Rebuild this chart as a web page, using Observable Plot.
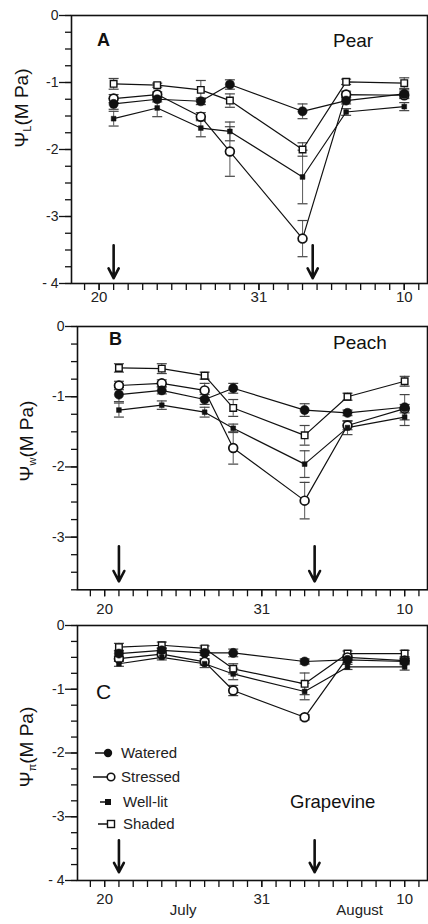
<!DOCTYPE html>
<html>
<head>
<meta charset="utf-8">
<script src="https://cdn.jsdelivr.net/npm/d3@7"></script>
<script src="https://cdn.jsdelivr.net/npm/@observablehq/plot@0.6"></script>
<style>
  body { margin: 0; background: #fff; font-family: "Liberation Sans", Arial, sans-serif; color: #111; }
  #wrap { position: relative; width: 428px; height: 924px; overflow: hidden; background: #fff; }
  .panel { position: absolute; left: 0; }
  .txt { position: absolute; line-height: 1; white-space: nowrap; color: #111; }
  .ylab { position: absolute; white-space: nowrap; font-size: 19px; line-height: 1; transform: translate(-50%, -50%) rotate(-90deg); color: #111; }
  .ylab sub { font-size: 11px; vertical-align: -3px; }
</style>
</head>
<body>
<div id="wrap"></div>
<script>
// Sampling dates, counted as day of July (1 Aug = 32)
const dates = [21, 24, 27, 29, 34, 37, 41];
const treatments = ["Watered", "Stressed", "Well-lit", "Shaded"];

// x axis
const xDays = d3.range(19, 43);          // daily minor ticks
const xTicks = [20, 31, 41];
const xTickLabels = ["20", "31", "10"];
const months = ["July", "August"];
const monthPos = [25.5, 37.85];
const arrowDays = [21, 34.7];

// ---- A: Pear ----
const pearWatered    = [-1.32, -1.25, -1.28, -1.03, -1.43, -1.27, -1.17];
const pearWateredSE  = [0.08, 0.04, 0.05, 0.07, 0.11, 0.05, 0.06];
const pearStressed   = [-1.24, -1.18, -1.51, -2.03, -3.33, -1.18, -1.19];
const pearStressedSE = [0.06, 0.04, 0.06, 0.37, 0.27, 0.05, 0.05];
const pearWellLit    = [-1.54, -1.38, -1.68, -1.73, -2.41, -1.44, -1.36];
const pearWellLitSE  = [0.11, 0.13, 0.13, 0.14, 0.40, 0.05, 0.06];
const pearShaded     = [-1.02, -1.04, -1.11, -1.27, -2.00, -0.99, -1.01];
const pearShadedSE   = [0.08, 0.03, 0.14, 0.10, 0.10, 0.04, 0.08];
const pearArrow      = [-3.43, -3.92];

// ---- B: Peach ----
const peachWatered    = [-0.97, -0.91, -1.04, -0.88, -1.19, -1.23, -1.15];
const peachWateredSE  = [0.10, 0.05, 0.07, 0.07, 0.09, 0.04, 0.18];
const peachStressed   = [-0.84, -0.81, -0.91, -1.73, -2.48, -1.41, -1.17];
const peachStressedSE = [0.06, 0.05, 0.10, 0.23, 0.26, 0.06, 0.06];
const peachWellLit    = [-1.19, -1.12, -1.22, -1.45, -1.96, -1.44, -1.29];
const peachWellLitSE  = [0.10, 0.06, 0.07, 0.06, 0.19, 0.10, 0.12];
const peachShaded     = [-0.59, -0.60, -0.70, -1.16, -1.55, -1.00, -0.78];
const peachShadedSE   = [0.06, 0.07, 0.05, 0.12, 0.14, 0.05, 0.07];
const peachArrow      = [-3.13, -3.63];

// ---- C: Grapevine ----
const grapeWatered    = [-0.44, -0.39, -0.43, -0.43, -0.565, -0.54, -0.565];
const grapeWateredSE  = [0.05, 0.04, 0.04, 0.06, 0.04, 0.04, 0.05];
const grapeStressed   = [-0.52, -0.45, -0.57, -1.02, -1.44, -0.50, -0.55];
const grapeStressedSE = [0.04, 0.04, 0.05, 0.08, 0.04, 0.04, 0.04];
const grapeWellLit    = [-0.60, -0.50, -0.60, -0.76, -1.035, -0.65, -0.65];
const grapeWellLitSE  = [0.04, 0.04, 0.06, 0.09, 0.13, 0.04, 0.05];
const grapeShaded     = [-0.34, -0.31, -0.36, -0.68, -0.915, -0.44, -0.44];
const grapeShadedSE   = [0.06, 0.05, 0.04, 0.08, 0.17, 0.04, 0.05];
const grapeArrow      = [-3.37, -3.87];

// y ticks
const yMajorA = [0, -1, -2, -3, -4];
const yMajorLabelsA = ["0", "-1", "-2", "-3", "- 4"];
const yMajorB = [0, -1, -2, -3];
const yMajorLabelsB = ["0", "-1", "-2", "-3"];

const ink = "#111";
const capSymbol = {
  draw(context, size) {
    const w = Math.sqrt(size / Math.PI);
    context.moveTo(-w, 0);
    context.lineTo(w, 0);
  }
};

function makePanel(cfg) {
  const rows = [];
  cfg.series.forEach(([name, vals, errs]) => {
    vals.forEach((v, i) => rows.push({t: name, x: dates[i], y: v, e: errs[i]}));
  });
  const caps = rows.flatMap(d => [{x: d.x, y: d.y - d.e}, {x: d.x, y: d.y + d.e}]);
  const yMinor = d3.range(0, cfg.ydom[0] - 0.001, -0.25);
  const ymap = new Map(cfg.yMajor.map((t, i) => [t, cfg.yLabels[i]]));
  const xmap = new Map(xTicks.map((t, i) => [t, xTickLabels[i]]));
  const arrows = arrowDays.map(x => ({x, y1: cfg.arrow[0], y2: cfg.arrow[1]}));
  const by = t => rows.filter(d => d.t === t);

  const marks = [
    Plot.axisY({ticks: yMinor, tickSize: 6, tickFormat: () => "", anchor: "left", label: null, strokeWidth: 1.3, stroke: ink}),
    Plot.axisY({ticks: cfg.yMajor, tickSize: 12, tickPadding: 1, tickFormat: d => ymap.get(d), anchor: "left", label: null, fontSize: 14, strokeWidth: 1.3, stroke: ink, fill: "#222"}),
    Plot.axisX({ticks: xDays, tickSize: 7, tickFormat: () => "", anchor: "bottom", label: null, strokeWidth: 1.3, stroke: ink}),
    Plot.axisX({ticks: xTicks, tickSize: 7, tickPadding: cfg.xPad, tickFormat: d => xmap.get(d), anchor: "bottom", label: null, fontSize: 15, strokeWidth: 1.3, stroke: ink, fill: "#222"}),
    Plot.frame({stroke: ink, strokeWidth: 1.6}),
    Plot.ruleX(rows, {x: "x", y1: d => d.y - d.e, y2: d => d.y + d.e, stroke: "#666", strokeWidth: 1.1}),
    Plot.dot(caps, {x: "x", y: "y", symbol: capSymbol, r: 5, stroke: "#444", strokeWidth: 1.2, fill: "none"}),
    Plot.line(rows, {x: "x", y: "y", z: "t", stroke: ink, strokeWidth: 1.2}),
    Plot.dot(by("Shaded"), {x: "x", y: "y", symbol: "square", r: 3.7, fill: "white", stroke: ink, strokeWidth: 1.4}),
    Plot.dot(by("Stressed"), {x: "x", y: "y", r: 4.4, fill: "white", stroke: ink, strokeWidth: 1.7}),
    Plot.dot(by("Well-lit"), {x: "x", y: "y", symbol: "square", r: 2.7, fill: ink, stroke: ink, strokeWidth: 0.5}),
    Plot.dot(by("Watered"), {x: "x", y: "y", r: 4.6, fill: ink, stroke: ink, strokeWidth: 0.5}),
    Plot.arrow(arrows, {x: "x", y1: "y1", y2: "y2", stroke: ink, strokeWidth: 2.6, headLength: 8, headAngle: 55})
  ];
  if (cfg.months) {
    const mmap = new Map(monthPos.map((t, i) => [t, months[i]]));
    marks.push(Plot.axisX({ticks: monthPos, tickSize: 0, tickPadding: 24, tickFormat: d => mmap.get(d), anchor: "bottom", label: null, fontSize: 15, fill: "#222"}));
  }

  const svg = Plot.plot({
    width: 428,
    height: cfg.height,
    marginTop: cfg.mt,
    marginBottom: cfg.mb,
    marginLeft: cfg.ml,
    marginRight: 1,
    x: {domain: [18.1, 42.6]},
    y: {domain: cfg.ydom},
    style: {fontFamily: "'Liberation Sans', Arial, sans-serif", fontSize: "15px", color: ink, background: "transparent", overflow: "visible"},
    marks
  });
  svg.classList.add("panel");
  svg.style.top = cfg.top + "px";
  return svg;
}

const wrap = document.getElementById("wrap");

wrap.appendChild(makePanel({
  top: 0, height: 310, mt: 15, mb: 27, ml: 71, ydom: [-4, 0], xPad: 1,
  yMajor: yMajorA, yLabels: yMajorLabelsA, arrow: pearArrow,
  series: [["Watered", pearWatered, pearWateredSE], ["Stressed", pearStressed, pearStressedSE],
           ["Well-lit", pearWellLit, pearWellLitSE], ["Shaded", pearShaded, pearShadedSE]]
}));
wrap.appendChild(makePanel({
  top: 310, height: 305, mt: 16, mb: 25.7, ml: 77, ydom: [-3.75, 0], xPad: 7,
  yMajor: yMajorB, yLabels: yMajorLabelsB, arrow: peachArrow,
  series: [["Watered", peachWatered, peachWateredSE], ["Stressed", peachStressed, peachStressedSE],
           ["Well-lit", peachWellLit, peachWellLitSE], ["Shaded", peachShaded, peachShadedSE]]
}));
wrap.appendChild(makePanel({
  top: 615, height: 309, mt: 10, mb: 44, ml: 77, ydom: [-4, 0], xPad: 6, months: true,
  yMajor: yMajorA, yLabels: yMajorLabelsA, arrow: grapeArrow,
  series: [["Watered", grapeWatered, grapeWateredSE], ["Stressed", grapeStressed, grapeStressedSE],
           ["Well-lit", grapeWellLit, grapeWellLitSE], ["Shaded", grapeShaded, grapeShadedSE]]
}));

// Text overlays
function addText(html, left, top, style) {
  const d = document.createElement("div");
  d.className = "txt";
  d.innerHTML = html;
  d.style.left = left + "px";
  d.style.top = top + "px";
  Object.assign(d.style, style || {});
  wrap.appendChild(d);
}
addText("A", 97, 31, {fontSize: "18px", fontWeight: "bold"});
addText("Pear", 333, 31, {fontSize: "19px"});
addText("B", 109, 330, {fontSize: "18px", fontWeight: "bold"});
addText("Peach", 333, 333, {fontSize: "19px"});
addText("C", 96, 681, {fontSize: "21px"});
addText("Grapevine", 290, 793, {fontSize: "18.5px"});

function addYLabel(sub, cx, cy) {
  const d = document.createElement("div");
  d.className = "ylab";
  d.innerHTML = "Ψ<sub>" + sub + "</sub>(M Pa)";
  d.style.left = cx + "px";
  d.style.top = cy + "px";
  wrap.appendChild(d);
}
addYLabel("L", 22, 108);
addYLabel("w", 27, 441);
addYLabel("π", 27, 747);

// Legend (panel C)
const legendY = [753, 777, 802, 824];
const leg = d3.select(wrap).append("svg")
  .attr("width", 428).attr("height", 924)
  .style("position", "absolute").style("left", 0).style("top", 0).style("pointer-events", "none");
treatments.forEach((t, i) => {
  const y = legendY[i];
  const g = leg.append("g");
  if (t === "Watered") {
    g.append("line").attr("x1", 95).attr("x2", 108).attr("y1", y).attr("y2", y).attr("stroke", ink).attr("stroke-width", 1.5);
    g.append("circle").attr("cx", 108).attr("cy", y).attr("r", 4.2).attr("fill", ink);
  } else if (t === "Stressed") {
    g.append("line").attr("x1", 93).attr("x2", 107).attr("y1", y).attr("y2", y).attr("stroke", ink).attr("stroke-width", 1.5);
    g.append("circle").attr("cx", 111).attr("cy", y).attr("r", 3.8).attr("fill", "white").attr("stroke", ink).attr("stroke-width", 1.6);
  } else if (t === "Well-lit") {
    g.append("line").attr("x1", 100).attr("x2", 107).attr("y1", y).attr("y2", y).attr("stroke", ink).attr("stroke-width", 1.5);
    g.append("rect").attr("x", 105).attr("y", y - 3).attr("width", 6).attr("height", 6).attr("fill", ink);
  } else {
    g.append("line").attr("x1", 98).attr("x2", 108).attr("y1", y).attr("y2", y).attr("stroke", ink).attr("stroke-width", 1.5);
    g.append("rect").attr("x", 107.5).attr("y", y - 3.5).attr("width", 7).attr("height", 7).attr("fill", "white").attr("stroke", ink).attr("stroke-width", 1.4);
  }
  g.append("text").attr("x", i < 2 ? 121 : 123).attr("y", y).attr("dy", "0.36em")
    .attr("font-size", 15).attr("font-family", "'Liberation Sans', Arial, sans-serif").attr("fill", "#222").text(t);
});
</script>
</body>
</html>
